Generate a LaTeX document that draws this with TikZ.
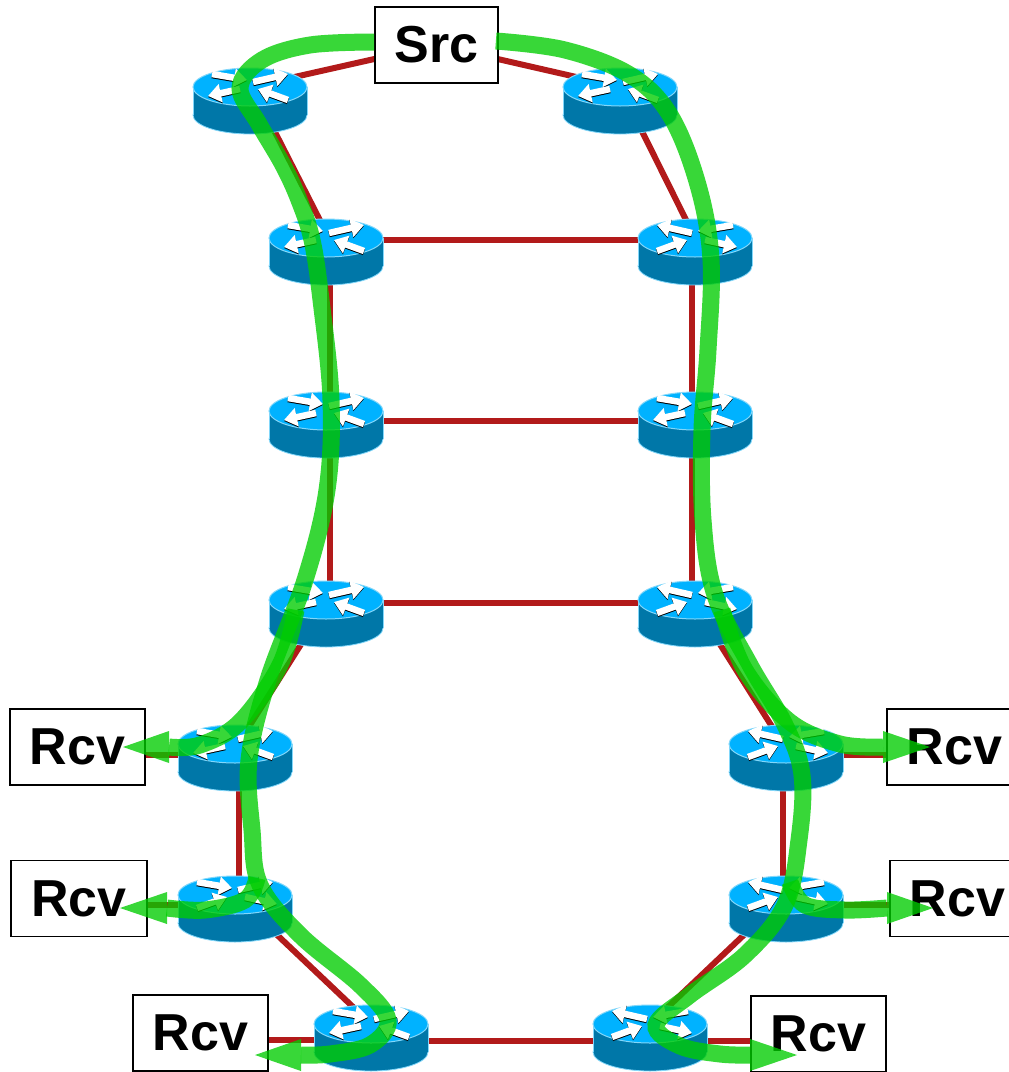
\documentclass[tikz,border=0pt]{standalone}
\usepackage{fontspec}
\setmainfont{Liberation Sans}
\usetikzlibrary{arrows.meta}
\pgfdeclarelayer{links}
\pgfsetlayers{links,main}
\definecolor{rtop}{RGB}{0,178,255}
\definecolor{rside}{RGB}{0,119,168}
\definecolor{redge}{RGB}{130,215,250}
\definecolor{linkred}{RGB}{178,26,26}
\definecolor{flowgreen}{RGB}{0,205,0}
\tikzset{
  x=1pt,y=-1pt,
  rnode/.style={inner sep=0pt,minimum size=1pt},
  hostbox/.style={draw=black,line width=1.8pt,fill=white,inner sep=0pt,minimum height=76pt,font=\bfseries\fontsize{52}{52}\selectfont},
  link/.style={draw=linkred,line width=6pt},
  flowband/.style={draw=flowgreen,line width=17pt,opacity=.78},
  flowhead/.style={fill=flowgreen,opacity=.78},
  rarrow/.style={line width=6.5pt,-{Triangle[length=13pt,width=18pt]}},
}
\newcommand{\iconarrow}[4]{%
  \draw[rarrow,black] (#1,#2+1) -- (#3,#4+1);
  \draw[rarrow,white] (#1,#2) -- (#3,#4);}
\newcommand{\routerdraw}[3]{%
  \begin{scope}[shift={(#1.center)}]
    \fill[rside,draw=redge,line width=.8pt] (0,28) ellipse [x radius=57,y radius=19];
    \fill[rside] (-57,0) rectangle (57,28);
    \draw[redge,line width=.8pt] (-57,0) -- (-57,28) (57,0) -- (57,28);
    \fill[rtop,draw=redge,line width=1pt] (0,0) ellipse [x radius=57,y radius=19];
    \begin{scope}[xscale=#2]
      \iconarrow{-38}{-13}{-3}{-7}
      \iconarrow{3}{-5}{38}{-13}
    \end{scope}
    \begin{scope}[xscale=#3]
      \iconarrow{-10}{2}{-42}{9}
      \iconarrow{38}{13}{8}{2}
    \end{scope}
  \end{scope}}
\newcommand{\headat}[2]{%
  \fill[flowhead] ([shift={(0,-16)}]#1) -- (#2) -- ([shift={(0,16)}]#1) -- cycle;}
\begin{document}
\begin{tikzpicture}
\useasboundingbox (0,0) rectangle (1009,1072);
\clip (0,0) rectangle (1009,1072);
% router anchors
\foreach \n/\px/\py in {r1/250/87,r2/620/87,r3/326/238,r4/695/238,r5/326/411,r6/695/411,r7/326/600,r8/695/600,r9/235/744,r10/786/744,r11/235/895,r12/786/895,r13/371/1024,r14/650/1024}
  \node[rnode] (\n) at (\px,\py) {};
% hosts
\node[hostbox,minimum width=123pt] (src) at (436.5,45) {Src};
\node[hostbox,minimum width=135pt] (h1) at (77.5,747) {Rcv};
\node[hostbox,minimum width=136pt] (h2) at (79,898.5) {Rcv};
\node[hostbox,minimum width=135pt] (h3) at (200.5,1033) {Rcv};
\node[hostbox,minimum width=135pt] (h4) at (954.5,747) {Rcv};
\node[hostbox,minimum width=135pt] (h5) at (957.5,898.5) {Rcv};
\node[hostbox,minimum width=135pt] (h6) at (818.5,1034) {Rcv};
% links, under everything else
\begin{pgfonlayer}{links}
\fill[white] (0,0) rectangle (1009,1072);
\draw[link] (src.center) -- (r1.center);
\draw[link] (src.center) -- (r2.center);
\draw[link] ([shift={(2,0)}]r1.center) -- ([shift={(3,0)}]r3.center);
\draw[link] (r2.center) -- (r4.center);
\draw[link] ([shift={(0,2)}]r3.center) -- ([shift={(0,2)}]r4.center);
\draw[link] ([shift={(4,0)}]r3.center) -- ([shift={(4,0)}]r5.center);
\draw[link] ([shift={(-3,0)}]r4.center) -- ([shift={(-3,0)}]r6.center);
\draw[link] ([shift={(0,10)}]r5.center) -- ([shift={(0,10)}]r6.center);
\draw[link] ([shift={(4,0)}]r5.center) -- ([shift={(4,0)}]r7.center);
\draw[link] ([shift={(-3,0)}]r6.center) -- ([shift={(-3,0)}]r8.center);
\draw[link] ([shift={(0,3)}]r7.center) -- ([shift={(0,3)}]r8.center);
\draw[link] ([shift={(3,0)}]r7.center) -- ([shift={(3,0)}]r9.center);
\draw[link] ([shift={(-3,0)}]r8.center) -- ([shift={(-3,0)}]r10.center);
\draw[link] ([shift={(4,0)}]r9.center) -- ([shift={(4,0)}]r11.center);
\draw[link] ([shift={(-3,0)}]r10.center) -- ([shift={(-3,0)}]r12.center);
\draw[link] (r11.center) -- (r13.center);
\draw[link] (r12.center) -- (r14.center);
\draw[link] ([shift={(0,17)}]r13.center) -- ([shift={(0,17)}]r14.center);
\draw[link] ([shift={(0,11)}]r9.center) -- ([shift={(0,8)}]h1.center);
\draw[link] ([shift={(0,11)}]r10.center) -- ([shift={(0,8)}]h4.center);
\draw[link] ([shift={(0,10)}]r11.center) -- ([shift={(0,6.5)}]h2.center);
\draw[link] ([shift={(0,10)}]r12.center) -- ([shift={(0,6.5)}]h5.center);
\draw[link] ([shift={(0,16)}]r13.center) -- ([shift={(0,7)}]h3.center);
\draw[link] ([shift={(0,17)}]r14.center) -- ([shift={(0,7)}]h6.center);
\end{pgfonlayer}
% routers
\routerdraw{r1}{1}{1}
\routerdraw{r2}{1}{1}
\routerdraw{r3}{1}{1}
\routerdraw{r4}{-1}{-1}
\routerdraw{r5}{1}{1}
\routerdraw{r6}{1}{1}
\routerdraw{r7}{1}{1}
\routerdraw{r8}{-1}{-1}
\routerdraw{r9}{1}{1}
\routerdraw{r10}{-1}{-1}
\routerdraw{r11}{1}{-1}
\routerdraw{r12}{-1}{-1}
\routerdraw{r13}{1}{1}
\routerdraw{r14}{-1}{-1}
% flow ends: arrow tips and the backs of the arrowheads
\coordinate (t1) at (123,747);  \coordinate (b1) at (169,747);
\coordinate (t2) at (120,908);  \coordinate (b2) at (167,908);
\coordinate (t3) at (255,1055); \coordinate (b3) at (301,1055);
\coordinate (t4) at (930,747);  \coordinate (b4) at (883,747);
\coordinate (t5) at (933,908);  \coordinate (b5) at (887,908);
\coordinate (t6) at (797,1055); \coordinate (b6) at (750,1055);
\coordinate (jl1) at (296,610);
\coordinate (jl2) at (257,878);
\coordinate (jr1) at (722,610);
\coordinate (jr2) at (790,882);
% left flow
\draw[flowband] plot[smooth,tension=.6] coordinates {([shift={(0,-3)}]src.west) (310,45) (262,60) (240,88) (259,124) (283,165) (299,200) (312,240) (321,300) (331,400) (327,490) (305,580) (268,680) (249,760) (252,830) (260,885) (300,935) (360,985) (388,1020) (370,1045) (330,1054) (b3)};
\draw[flowband] plot[smooth,tension=.6] coordinates {(jl1) (280,665) (240,722) (200,745) (b1)};
\draw[flowband] plot[smooth,tension=.6] coordinates {(jl2) (245,900) (205,910) (b2)};
\headat{b1}{t1}
\headat{b2}{t2}
\headat{b3}{t3}
% right flow
\draw[flowband] plot[smooth,tension=.6] coordinates {([shift={(-3,-4)}]src.east) (565,50) (630,75) (670,115) (698,185) (711,260) (708,350) (702,430) (703,520) (715,595) (750,665) (785,725) (802,775) (799,840) (785,905) (745,955) (690,995) (656,1025) (680,1046) (720,1054) (b6)};
\draw[flowband] plot[smooth,tension=.6] coordinates {(jr1) (745,670) (790,722) (840,744) (b4)};
\draw[flowband] plot[smooth,tension=.6] coordinates {(jr2) (805,905) (845,910) (b5)};
\headat{b4}{t4}
\headat{b5}{t5}
\headat{b6}{t6}
\end{tikzpicture}
\end{document}
